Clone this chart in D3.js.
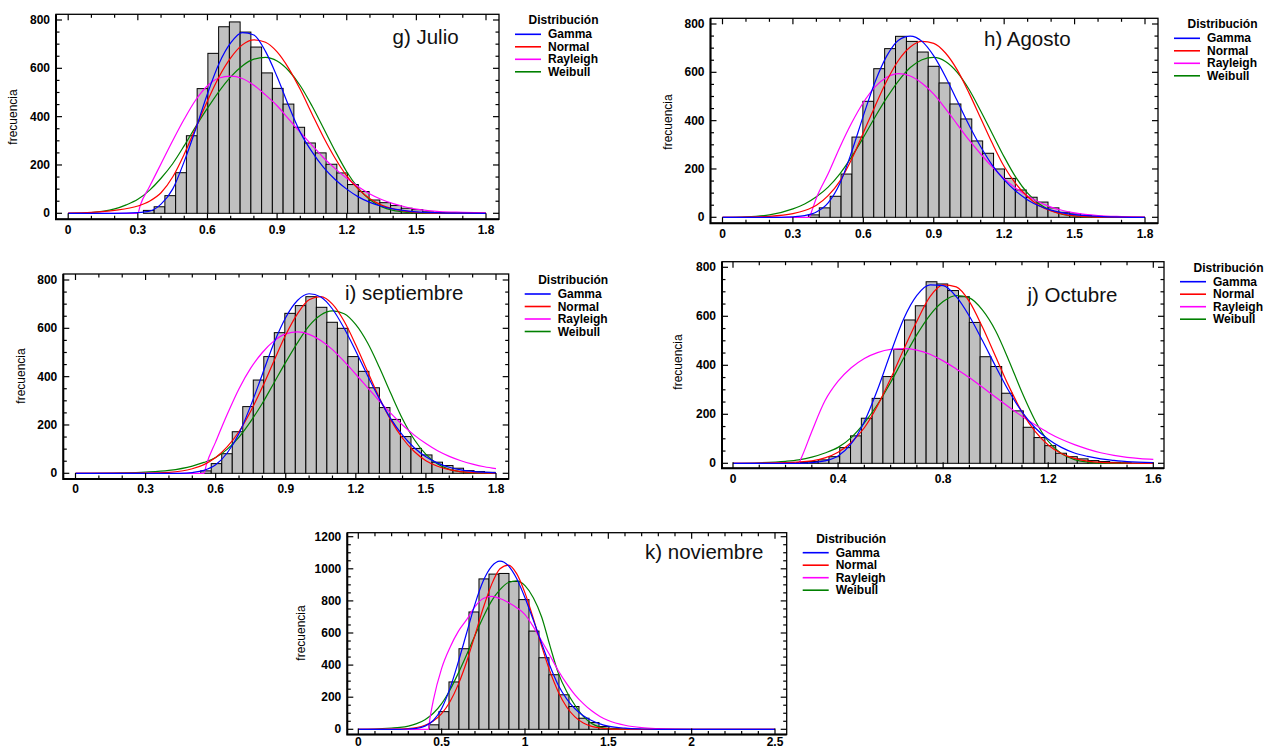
<!DOCTYPE html>
<html><head><meta charset="utf-8">
<script src="https://cdn.jsdelivr.net/npm/d3@7"></script>
<style>body{margin:0;background:#fff}svg{display:block}</style>
</head><body>
<svg id="chart" width="1270" height="748"></svg>
<script>
// ---------------- DATA ----------------
const distNames = ["Gamma", "Normal", "Rayleigh", "Weibull"];
const legendTitle = "Distribución";
const yLabel = "frecuencia";

// g) Julio
const julioTitle = "g) Julio";
const julioBinStart = 0.324, julioBinWidth = 0.0463;
const julioCounts = [12, 27, 73, 168, 321, 516, 662, 772, 792, 750, 688, 581, 517, 452, 356, 291, 250, 203, 167, 119, 90, 55, 44, 32, 21, 15, 6, 3, 1];
const julioGamma = [[0,0],[0.2,0],[0.3,3],[0.35,9],[0.4,38],[0.45,100],[0.5,215],[0.55,350],[0.6,495],[0.65,620],[0.7,705],[0.75,748],[0.8,738],[0.85,670],[0.9,565],[0.95,445],[1.0,335],[1.05,255],[1.1,190],[1.15,140],[1.2,100],[1.25,68],[1.3,45],[1.35,29],[1.4,18],[1.45,11],[1.5,6],[1.6,2],[1.7,0.5],[1.8,0]];
const julioNormal = [[0,1],[0.1,4],[0.2,12],[0.3,30],[0.35,50],[0.4,85],[0.45,150],[0.5,245],[0.55,355],[0.6,465],[0.65,565],[0.7,643],[0.75,697],[0.8,718],[0.85,708],[0.9,668],[0.95,600],[1.0,512],[1.05,412],[1.1,315],[1.15,228],[1.2,155],[1.25,100],[1.3,60],[1.35,34],[1.4,18],[1.45,9],[1.5,4],[1.6,1],[1.8,0]];
const julioRayleigh = [[0,0],[0.3,0],[0.31,32],[0.35,110],[0.4,205],[0.45,300],[0.5,390],[0.55,470],[0.6,528],[0.65,560],[0.7,568],[0.75,558],[0.8,530],[0.85,490],[0.9,445],[0.95,390],[1.0,335],[1.05,282],[1.1,230],[1.15,185],[1.2,145],[1.25,110],[1.3,80],[1.35,57],[1.4,40],[1.45,27],[1.5,17],[1.55,11],[1.6,7],[1.7,4],[1.8,2]];
const julioWeibull = [[0,0],[0.1,3],[0.2,18],[0.25,35],[0.3,58],[0.35,95],[0.4,145],[0.45,205],[0.5,280],[0.55,360],[0.6,435],[0.65,505],[0.7,565],[0.75,610],[0.8,638],[0.85,645],[0.9,630],[0.95,590],[1.0,528],[1.05,445],[1.1,352],[1.15,258],[1.2,172],[1.25,104],[1.3,56],[1.35,27],[1.4,12],[1.45,5],[1.5,2],[1.6,0],[1.8,0]];
const julioXTicks = [0, 0.3, 0.6, 0.9, 1.2, 1.5, 1.8];
const julioYTicks = [0, 200, 400, 600, 800];

// h) Agosto
const agostoTitle = "h) Agosto";
const agostoBinStart = 0.366, agostoBinWidth = 0.0464;
const agostoCounts = [10, 39, 87, 179, 332, 480, 615, 698, 749, 728, 684, 625, 556, 469, 407, 316, 265, 200, 161, 113, 83, 63, 39, 21, 14, 7, 4, 2];
const agostoGamma = [[0,0],[0.25,0],[0.3,2],[0.35,7],[0.4,22],[0.45,60],[0.5,140],[0.55,270],[0.6,420],[0.65,560],[0.7,668],[0.75,733],[0.8,750],[0.85,728],[0.9,668],[0.95,582],[1.0,482],[1.05,382],[1.1,292],[1.15,215],[1.2,155],[1.25,108],[1.3,72],[1.35,47],[1.4,30],[1.45,18],[1.5,11],[1.6,4],[1.7,1],[1.8,0]];
const agostoNormal = [[0,0],[0.1,1],[0.2,4],[0.3,15],[0.35,28],[0.4,50],[0.45,90],[0.5,150],[0.55,240],[0.6,350],[0.65,460],[0.7,565],[0.75,650],[0.8,705],[0.85,728],[0.9,720],[0.95,680],[1.0,610],[1.05,515],[1.1,410],[1.15,305],[1.2,210],[1.25,138],[1.3,85],[1.35,48],[1.4,26],[1.45,13],[1.5,6],[1.6,1],[1.8,0]];
const agostoRayleigh = [[0,0],[0.37,0],[0.38,25],[0.4,80],[0.45,180],[0.5,290],[0.55,390],[0.6,475],[0.65,540],[0.7,580],[0.75,595],[0.8,585],[0.85,555],[0.9,510],[0.95,450],[1.0,385],[1.05,320],[1.1,262],[1.15,208],[1.2,160],[1.25,120],[1.3,88],[1.35,62],[1.4,42],[1.45,28],[1.5,18],[1.6,7],[1.7,3],[1.8,1]];
const agostoWeibull = [[0,0],[0.1,2],[0.2,10],[0.3,35],[0.35,55],[0.4,85],[0.45,125],[0.5,180],[0.55,250],[0.6,330],[0.65,415],[0.7,495],[0.75,565],[0.8,620],[0.85,652],[0.9,662],[0.95,645],[1.0,600],[1.05,530],[1.1,440],[1.15,345],[1.2,250],[1.25,165],[1.3,100],[1.35,55],[1.4,28],[1.45,12],[1.5,5],[1.6,1],[1.8,0]];
const agostoXTicks = [0, 0.3, 0.6, 0.9, 1.2, 1.5, 1.8];
const agostoYTicks = [0, 200, 400, 600, 800];

// i) septiembre
const septTitle = "i) septiembre";
const septBinStart = 0.536, septBinWidth = 0.045;
const septCounts = [10, 40, 81, 172, 276, 386, 483, 582, 662, 694, 731, 687, 625, 600, 483, 422, 354, 272, 223, 152, 103, 76, 46, 32, 21, 11, 7, 4];
const septGamma = [[0,0],[0.45,0],[0.5,3],[0.55,12],[0.6,35],[0.65,85],[0.7,165],[0.75,280],[0.8,410],[0.85,540],[0.9,645],[0.95,715],[1.0,743],[1.05,730],[1.1,680],[1.15,600],[1.2,505],[1.25,405],[1.3,310],[1.35,225],[1.4,158],[1.45,106],[1.5,68],[1.55,42],[1.6,25],[1.65,14],[1.7,8],[1.8,2]];
const septNormal = [[0,0],[0.3,1],[0.4,4],[0.5,19],[0.55,36],[0.6,65],[0.65,110],[0.7,173],[0.75,257],[0.8,357],[0.85,466],[0.9,573],[0.95,660],[1.0,718],[1.05,731],[1.1,700],[1.15,629],[1.2,531],[1.25,422],[1.3,314],[1.35,220],[1.4,145],[1.45,90],[1.5,52],[1.55,29],[1.6,15],[1.7,3],[1.8,1]];
const septRayleigh = [[0,0],[0.55,0],[0.56,35],[0.6,130],[0.65,245],[0.7,350],[0.75,435],[0.8,500],[0.85,548],[0.9,577],[0.95,585],[1.0,575],[1.05,550],[1.1,512],[1.15,463],[1.2,410],[1.25,355],[1.3,300],[1.35,248],[1.4,200],[1.45,158],[1.5,123],[1.55,93],[1.6,70],[1.65,52],[1.7,38],[1.75,27],[1.8,19]];
const septWeibull = [[0,0],[0.2,2],[0.3,5],[0.4,12],[0.5,30],[0.55,45],[0.6,65],[0.65,100],[0.7,150],[0.75,215],[0.8,290],[0.85,375],[0.9,460],[0.95,540],[1.0,610],[1.05,655],[1.1,672],[1.15,660],[1.2,615],[1.25,540],[1.3,440],[1.35,330],[1.4,225],[1.45,140],[1.5,78],[1.55,38],[1.6,16],[1.65,6],[1.7,2],[1.8,0]];
const septXTicks = [0, 0.3, 0.6, 0.9, 1.2, 1.5, 1.8];
const septYTicks = [0, 200, 400, 600, 800];

// j) Octubre
const octTitle = "j) Octubre";
const octBinStart = 0.242, octBinWidth = 0.0411;
const octCounts = [3, 7, 14, 27, 64, 112, 184, 265, 354, 465, 585, 643, 741, 732, 705, 680, 575, 435, 395, 286, 214, 147, 105, 72, 41, 27, 18, 11, 7, 4, 2];
const octGamma = [[0,0],[0.25,0],[0.3,3],[0.35,10],[0.4,30],[0.45,80],[0.5,170],[0.55,300],[0.6,450],[0.65,590],[0.7,685],[0.75,728],[0.8,725],[0.85,680],[0.9,600],[0.95,500],[1.0,395],[1.05,295],[1.1,210],[1.15,145],[1.2,98],[1.25,65],[1.3,42],[1.35,28],[1.4,18],[1.45,12],[1.5,7],[1.6,3]];
const octNormal = [[0,0],[0.2,3],[0.3,10],[0.35,22],[0.4,45],[0.45,85],[0.5,145],[0.55,235],[0.6,345],[0.65,465],[0.7,580],[0.75,680],[0.8,728],[0.85,720],[0.9,660],[0.95,555],[1.0,435],[1.05,315],[1.1,210],[1.15,130],[1.2,75],[1.25,40],[1.3,20],[1.35,9],[1.4,4],[1.5,1],[1.6,0]];
const octRayleigh = [[0,0],[0.25,0],[0.26,22],[0.3,130],[0.35,255],[0.4,335],[0.45,390],[0.5,428],[0.55,452],[0.6,465],[0.65,468],[0.7,462],[0.75,445],[0.8,418],[0.85,385],[0.9,350],[0.95,310],[1.0,270],[1.05,230],[1.1,192],[1.15,157],[1.2,125],[1.25,98],[1.3,76],[1.35,58],[1.4,43],[1.45,32],[1.5,24],[1.55,19],[1.6,16]];
const octWeibull = [[0,0],[0.1,2],[0.2,8],[0.25,14],[0.3,25],[0.35,42],[0.4,65],[0.45,105],[0.5,165],[0.55,240],[0.6,330],[0.65,430],[0.7,525],[0.75,605],[0.8,660],[0.85,685],[0.9,675],[0.95,625],[1.0,540],[1.05,420],[1.1,290],[1.15,175],[1.2,90],[1.25,40],[1.3,15],[1.35,5],[1.4,1],[1.6,0]];
const octXTicks = [0, 0.4, 0.8, 1.2, 1.6];
const octYTicks = [0, 200, 400, 600, 800];

// k) noviembre
const novTitle = "k) noviembre";
const novBinStart = 0.424, novBinWidth = 0.06;
const novCounts = [28, 110, 295, 502, 731, 937, 967, 971, 921, 808, 612, 446, 340, 215, 142, 69, 42, 17, 6, 2];
const novGamma = [[0,0],[0.25,0],[0.3,2],[0.35,6],[0.4,20],[0.45,55],[0.5,130],[0.55,255],[0.6,420],[0.65,600],[0.7,780],[0.75,925],[0.8,1015],[0.85,1048],[0.9,1020],[0.95,940],[1.0,820],[1.05,680],[1.1,535],[1.15,395],[1.2,275],[1.25,190],[1.3,128],[1.35,85],[1.4,55],[1.45,34],[1.5,20],[1.6,7],[1.7,2],[1.8,0],[2.5,0]];
const novNormal = [[0,0],[0.2,1],[0.3,5],[0.35,11],[0.4,25],[0.45,52],[0.5,98],[0.55,172],[0.6,280],[0.65,421],[0.7,587],[0.75,757],[0.8,903],[0.85,1000],[0.9,1023],[0.95,970],[1.0,850],[1.05,691],[1.1,519],[1.15,361],[1.2,233],[1.25,139],[1.3,77],[1.35,39],[1.4,18],[1.45,8],[1.5,3],[1.6,1],[1.7,0],[2.5,0]];
const novRayleigh = [[0,0],[0.42,0],[0.43,70],[0.45,180],[0.5,380],[0.55,510],[0.6,610],[0.65,683],[0.7,765],[0.75,815],[0.8,828],[0.85,815],[0.9,790],[0.95,758],[1.0,715],[1.05,640],[1.1,550],[1.15,460],[1.2,365],[1.25,285],[1.3,215],[1.35,160],[1.4,115],[1.45,80],[1.5,55],[1.6,25],[1.7,10],[1.8,4],[1.9,1],[2.0,0],[2.5,0]];
const novWeibull = [[0,0],[0.1,2],[0.2,8],[0.25,12],[0.3,20],[0.35,35],[0.4,60],[0.45,100],[0.5,160],[0.55,245],[0.6,350],[0.65,465],[0.7,585],[0.75,700],[0.8,800],[0.85,870],[0.9,915],[0.95,925],[1.0,895],[1.05,820],[1.1,700],[1.15,520],[1.2,350],[1.25,235],[1.3,150],[1.35,80],[1.4,36],[1.45,14],[1.5,5],[1.6,1],[1.7,0],[2.5,0]];
const novXTicks = [0, 0.5, 1, 1.5, 2, 2.5];
const novYTicks = [0, 200, 400, 600, 800, 1000, 1200];

// ---------------- PANELS (data + layout) ----------------
const colors = {Gamma: "#0000ff", Normal: "#ff0000", Rayleigh: "#ff00ff", Weibull: "#008000"};

const panels = [
  {title: julioTitle, binStart: julioBinStart, binWidth: julioBinWidth, counts: julioCounts,
   curves: {Gamma: julioGamma, Normal: julioNormal, Rayleigh: julioRayleigh, Weibull: julioWeibull},
   xTicks: julioXTicks, yTicks: julioYTicks,
   L: 56, R: 499, T: 14.3, B: 219.3, x0: 68.2, x1: 486, y0: 213.3, y1: 20, xLabDy: 11,
   titleX: 392.5, titleY: 44, labX: 13, labY: 117},
  {title: agostoTitle, binStart: agostoBinStart, binWidth: agostoBinWidth, counts: agostoCounts,
   curves: {Gamma: agostoGamma, Normal: agostoNormal, Rayleigh: agostoRayleigh, Weibull: agostoWeibull},
   xTicks: agostoXTicks, yTicks: agostoYTicks,
   L: 710.5, R: 1158, T: 18.3, B: 223.3, x0: 722.5, x1: 1145, y0: 217.3, y1: 24, xLabDy: 11,
   titleX: 984, titleY: 46, labX: 668, labY: 122},
  {title: septTitle, binStart: septBinStart, binWidth: septBinWidth, counts: septCounts,
   curves: {Gamma: septGamma, Normal: septNormal, Rayleigh: septRayleigh, Weibull: septWeibull},
   xTicks: septXTicks, yTicks: septYTicks,
   L: 63.3, R: 508.7, T: 274, B: 479, x0: 75.5, x1: 496, y0: 473.3, y1: 280, xLabDy: 10,
   titleX: 345, titleY: 300, labX: 21, labY: 376},
  {title: octTitle, binStart: octBinStart, binWidth: octBinWidth, counts: octCounts,
   curves: {Gamma: octGamma, Normal: octNormal, Rayleigh: octRayleigh, Weibull: octWeibull},
   xTicks: octXTicks, yTicks: octYTicks,
   L: 722, R: 1164, T: 261.7, B: 468.3, x0: 733, x1: 1153.3, y0: 463.3, y1: 267.3, xLabDy: 11,
   titleX: 1027.5, titleY: 302, labX: 678, labY: 362},
  {title: novTitle, binStart: novBinStart, binWidth: novBinWidth, counts: novCounts,
   curves: {Gamma: novGamma, Normal: novNormal, Rayleigh: novRayleigh, Weibull: novWeibull},
   xTicks: novXTicks, yTicks: novYTicks,
   L: 347.3, R: 786.7, T: 532.7, B: 734.5, x0: 358.3, x1: 775, y0: 729.3, y1: 536.7, xLabDy: 7.5,
   titleX: 645, titleY: 558.5, labX: 301, labY: 633}
];

// ---------------- DRAW ----------------
const svg = d3.select("#chart");
const FONT = "'Liberation Sans', Arial, Helvetica, sans-serif";

panels.forEach(p => {
  const xMax = p.xTicks[p.xTicks.length - 1];
  const yMax = p.yTicks[p.yTicks.length - 1];
  const x = d3.scaleLinear().domain([0, xMax]).range([p.x0, p.x1]);
  const y = d3.scaleLinear().domain([0, yMax]).range([p.y0, p.y1]);
  const g = svg.append("g");

  // bars
  g.append("g").selectAll("rect").data(p.counts).join("rect")
    .attr("x", (d, i) => x(p.binStart + i * p.binWidth))
    .attr("y", d => y(d))
    .attr("width", x(p.binWidth) - x(0))
    .attr("height", d => y(0) - y(d))
    .attr("fill", "#c0c0c0")
    .attr("stroke", "#000")
    .attr("stroke-width", 1);

  // curves
  const line = d3.line().x(d => x(d[0])).y(d => y(d[1])).curve(d3.curveMonotoneX);
  ["Weibull", "Rayleigh", "Normal", "Gamma"].forEach(name => {
    g.append("path").attr("d", line(p.curves[name]))
      .attr("fill", "none").attr("stroke", colors[name]).attr("stroke-width", 1.2);
  });

  // frame
  g.append("rect").attr("x", p.L).attr("y", p.T).attr("width", p.R - p.L).attr("height", p.B - p.T)
    .attr("fill", "none").attr("stroke", "#000").attr("stroke-width", 1.3);
  g.append("path").attr("d", `M${p.L},${p.T}V${p.B}H${p.R}`).attr("fill", "none")
    .attr("stroke", "#000").attr("stroke-width", 2);

  // ticks (inside, all four sides)
  const xMinor = d3.range(0, xMax + 1e-9, 0.1);
  const yMinor = d3.range(0, yMax + 1e-9, 50);
  const isMajorX = v => p.xTicks.some(t => Math.abs(t - v) < 1e-6);
  const isMajorY = v => p.yTicks.some(t => Math.abs(t - v) < 1e-6);
  const tk = g.append("g").attr("stroke", "#000").attr("stroke-width", 1.2);
  xMinor.forEach(v => {
    const len = isMajorX(v) ? 6 : 3.5;
    tk.append("line").attr("x1", x(v)).attr("x2", x(v)).attr("y1", p.B).attr("y2", p.B - len);
    tk.append("line").attr("x1", x(v)).attr("x2", x(v)).attr("y1", p.T).attr("y2", p.T + len);
  });
  yMinor.forEach(v => {
    const len = isMajorY(v) ? 6 : 3.5;
    tk.append("line").attr("x1", p.L).attr("x2", p.L + len).attr("y1", y(v)).attr("y2", y(v));
    tk.append("line").attr("x1", p.R).attr("x2", p.R - len).attr("y1", y(v)).attr("y2", y(v));
  });

  // tick labels
  g.append("g").selectAll("text").data(p.xTicks).join("text")
    .attr("x", d => x(d)).attr("y", p.B + p.xLabDy)
    .attr("text-anchor", "middle").attr("dominant-baseline", "central")
    .attr("font-family", FONT).attr("font-weight", "bold").attr("font-size", 12)
    .text(d => String(d));
  g.append("g").selectAll("text").data(p.yTicks).join("text")
    .attr("x", p.L - 6).attr("y", d => y(d))
    .attr("text-anchor", "end").attr("dominant-baseline", "central")
    .attr("font-family", FONT).attr("font-weight", "bold").attr("font-size", 12)
    .text(d => String(d));

  // y label
  g.append("text").attr("transform", `translate(${p.labX},${p.labY}) rotate(-90)`)
    .attr("text-anchor", "middle").attr("dominant-baseline", "central")
    .attr("font-family", FONT).attr("font-size", 12).text(yLabel);

  // panel title
  g.append("text").attr("x", p.titleX).attr("y", p.titleY)
    .attr("font-family", FONT).attr("font-size", 20.5).attr("fill", "#111").text(p.title);

  // legend
  const lg = g.append("g");
  lg.append("text").attr("x", p.R + 29.5).attr("y", p.T + 10)
    .attr("font-family", FONT).attr("font-weight", "bold").attr("font-size", 12).text(legendTitle);
  distNames.forEach((name, i) => {
    const cy = p.T + 20 + i * 12.5;
    lg.append("line").attr("x1", p.R + 16).attr("x2", p.R + 42).attr("y1", cy).attr("y2", cy)
      .attr("stroke", colors[name]).attr("stroke-width", 1.6);
    lg.append("text").attr("x", p.R + 49).attr("y", cy).attr("dominant-baseline", "central")
      .attr("font-family", FONT).attr("font-weight", "bold").attr("font-size", 12).text(name);
  });
});
</script>
</body></html>
